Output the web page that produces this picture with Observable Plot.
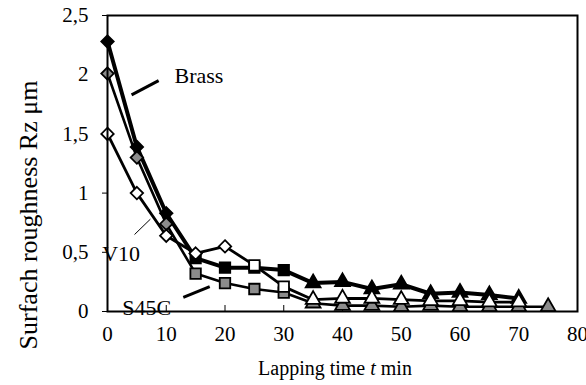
<!DOCTYPE html>
<html><head><meta charset="utf-8">
<script src="https://cdn.jsdelivr.net/npm/d3@7"></script>
<script src="https://cdn.jsdelivr.net/npm/@observablehq/plot@0.6"></script>
<style>body{margin:0;background:#fff}</style>
</head><body><div id="chart"></div>
<script>
// Lapping time (min)
const time = [0,5,10,15,20,25,30,35,40,45,50,55,60,65,70,75];
// Surface roughness Rz (µm) per material (null = no point)
const brass = [2.28,1.39,0.83,0.45,0.37,0.37,0.35,0.24,0.25,0.19,0.23,0.15,0.16,0.14,0.11,null];
const v10   = [1.50,1.00,0.64,0.49,0.55,0.39,0.21,0.10,0.11,0.11,0.10,0.09,0.09,0.08,0.08,null];
const s45c  = [2.01,1.30,0.74,0.32,0.24,0.19,0.16,0.07,0.05,0.05,0.04,0.05,0.04,0.04,0.04,0.04];
// marker shape per point: d = diamond, s = square, t = triangle
const brassShape = ["d","d","d","s","s","s","s","t","t","t","t","t","t","t","t","t"];
const v10Shape   = ["d","d","d","d","d","s","s","t","t","t","t","t","t","t","t","t"];
const s45cShape  = ["d","d","d","s","s","s","s","t","t","t","t","t","t","t","t","t"];
const materials = ["Brass","V10","S45C"];
const xTicks = [0,10,20,30,40,50,60,70,80];
const yTicks = [0,0.5,1,1.5,2,2.5];
const yTitle = "Surfach roughness Rz \u03bcm";
// annotation labels (data coordinates)
const labelNames = ["Brass","V10","S45C"];
const labelT = [11.4,-0.9,2.5];
const labelV = [1.99,0.49,0.03];
const leaderT1 = [4.1,4.6,12.9], leaderV1 = [1.83,0.65,0.12];
const leaderT2 = [8.7,7.3,17.4], leaderV2 = [1.95,0.78,0.21];

function rows(vals, shapes){ return time.map((t,i)=>({t, v: vals[i], s: shapes[i]})).filter(d=>d.v!=null); }
const B = rows(brass, brassShape), V = rows(v10, v10Shape), S = rows(s45c, s45cShape);
const symName = {d:"diamond2", s:"square", t:"triangle"};
const symR = {d:5.6, s:5.9, t:5.5};
function dots(data, fill){
  return ["d","s","t"].map(k => Plot.dot(data.filter(d=>d.s===k), {x:"t", y:"v", symbol: symName[k], r: symR[k], fill, stroke:"black", strokeWidth:1.8}));
}
const ann = labelNames.map((n,i)=>({n, t: labelT[i], v: labelV[i]}));
const leaders = labelNames.map((n,i)=>({n, x1: leaderT1[i], y1: leaderV1[i], x2: leaderT2[i], y2: leaderV2[i]}));
const fmt = d => String(d).replace(".", ",");

const chart = Plot.plot({
  width: 586, height: 385,
  marginLeft: 107, marginRight: 9, marginTop: 15, marginBottom: 74,
  style: {fontFamily: "'Liberation Serif', 'Times New Roman', serif", background: "white", color: "black"},
  x: {domain: [0, 80]},
  y: {domain: [0, 2.5]},
  marks: [
    Plot.axisY({ticks: yTicks, tickSize: 5, tickPadding: 14, tickFormat: fmt, fontSize: 21, label: null}),
    Plot.axisX({ticks: xTicks, tickSize: -6, tickPadding: 21, fontSize: 21, label: null}),
    Plot.line(B, {x:"t", y:"v", stroke:"black", strokeWidth:4}),
    Plot.line(S, {x:"t", y:"v", stroke:"black", strokeWidth:2.6}),
    Plot.line(V, {x:"t", y:"v", stroke:"black", strokeWidth:2.8}),
    ...dots(B, "black"),
    ...dots(S, "#8c8c8c"),
    ...dots(V, "white"),
    Plot.link(leaders.filter(d=>d.n!=="V10"), {x1:"x1", y1:"y1", x2:"x2", y2:"y2", stroke:"black", strokeWidth:3}),
    Plot.link(leaders.filter(d=>d.n==="V10"), {x1:"x1", y1:"y1", x2:"x2", y2:"y2", stroke:"black", strokeWidth:1}),
    Plot.frame({stroke:"black", strokeWidth:2}),
    Plot.text(ann, {x:"t", y:"v", text:"n", textAnchor:"start", fontSize:22, fill:"black"})
  ]
});
document.getElementById("chart").appendChild(chart);
const svg = d3.select(chart);
svg.append("text").attr("transform", "translate(37,215) rotate(-90)").attr("text-anchor","middle")
  .attr("font-size", 26).attr("fill","black").text(yTitle);
const xt = svg.append("text").attr("x", 335).attr("y", 375).attr("text-anchor","middle")
  .attr("font-size", 20).attr("fill","black");
xt.append("tspan").text("Lapping time ");
xt.append("tspan").attr("font-style","italic").text("t");
xt.append("tspan").text(" min");
</script></body></html>
